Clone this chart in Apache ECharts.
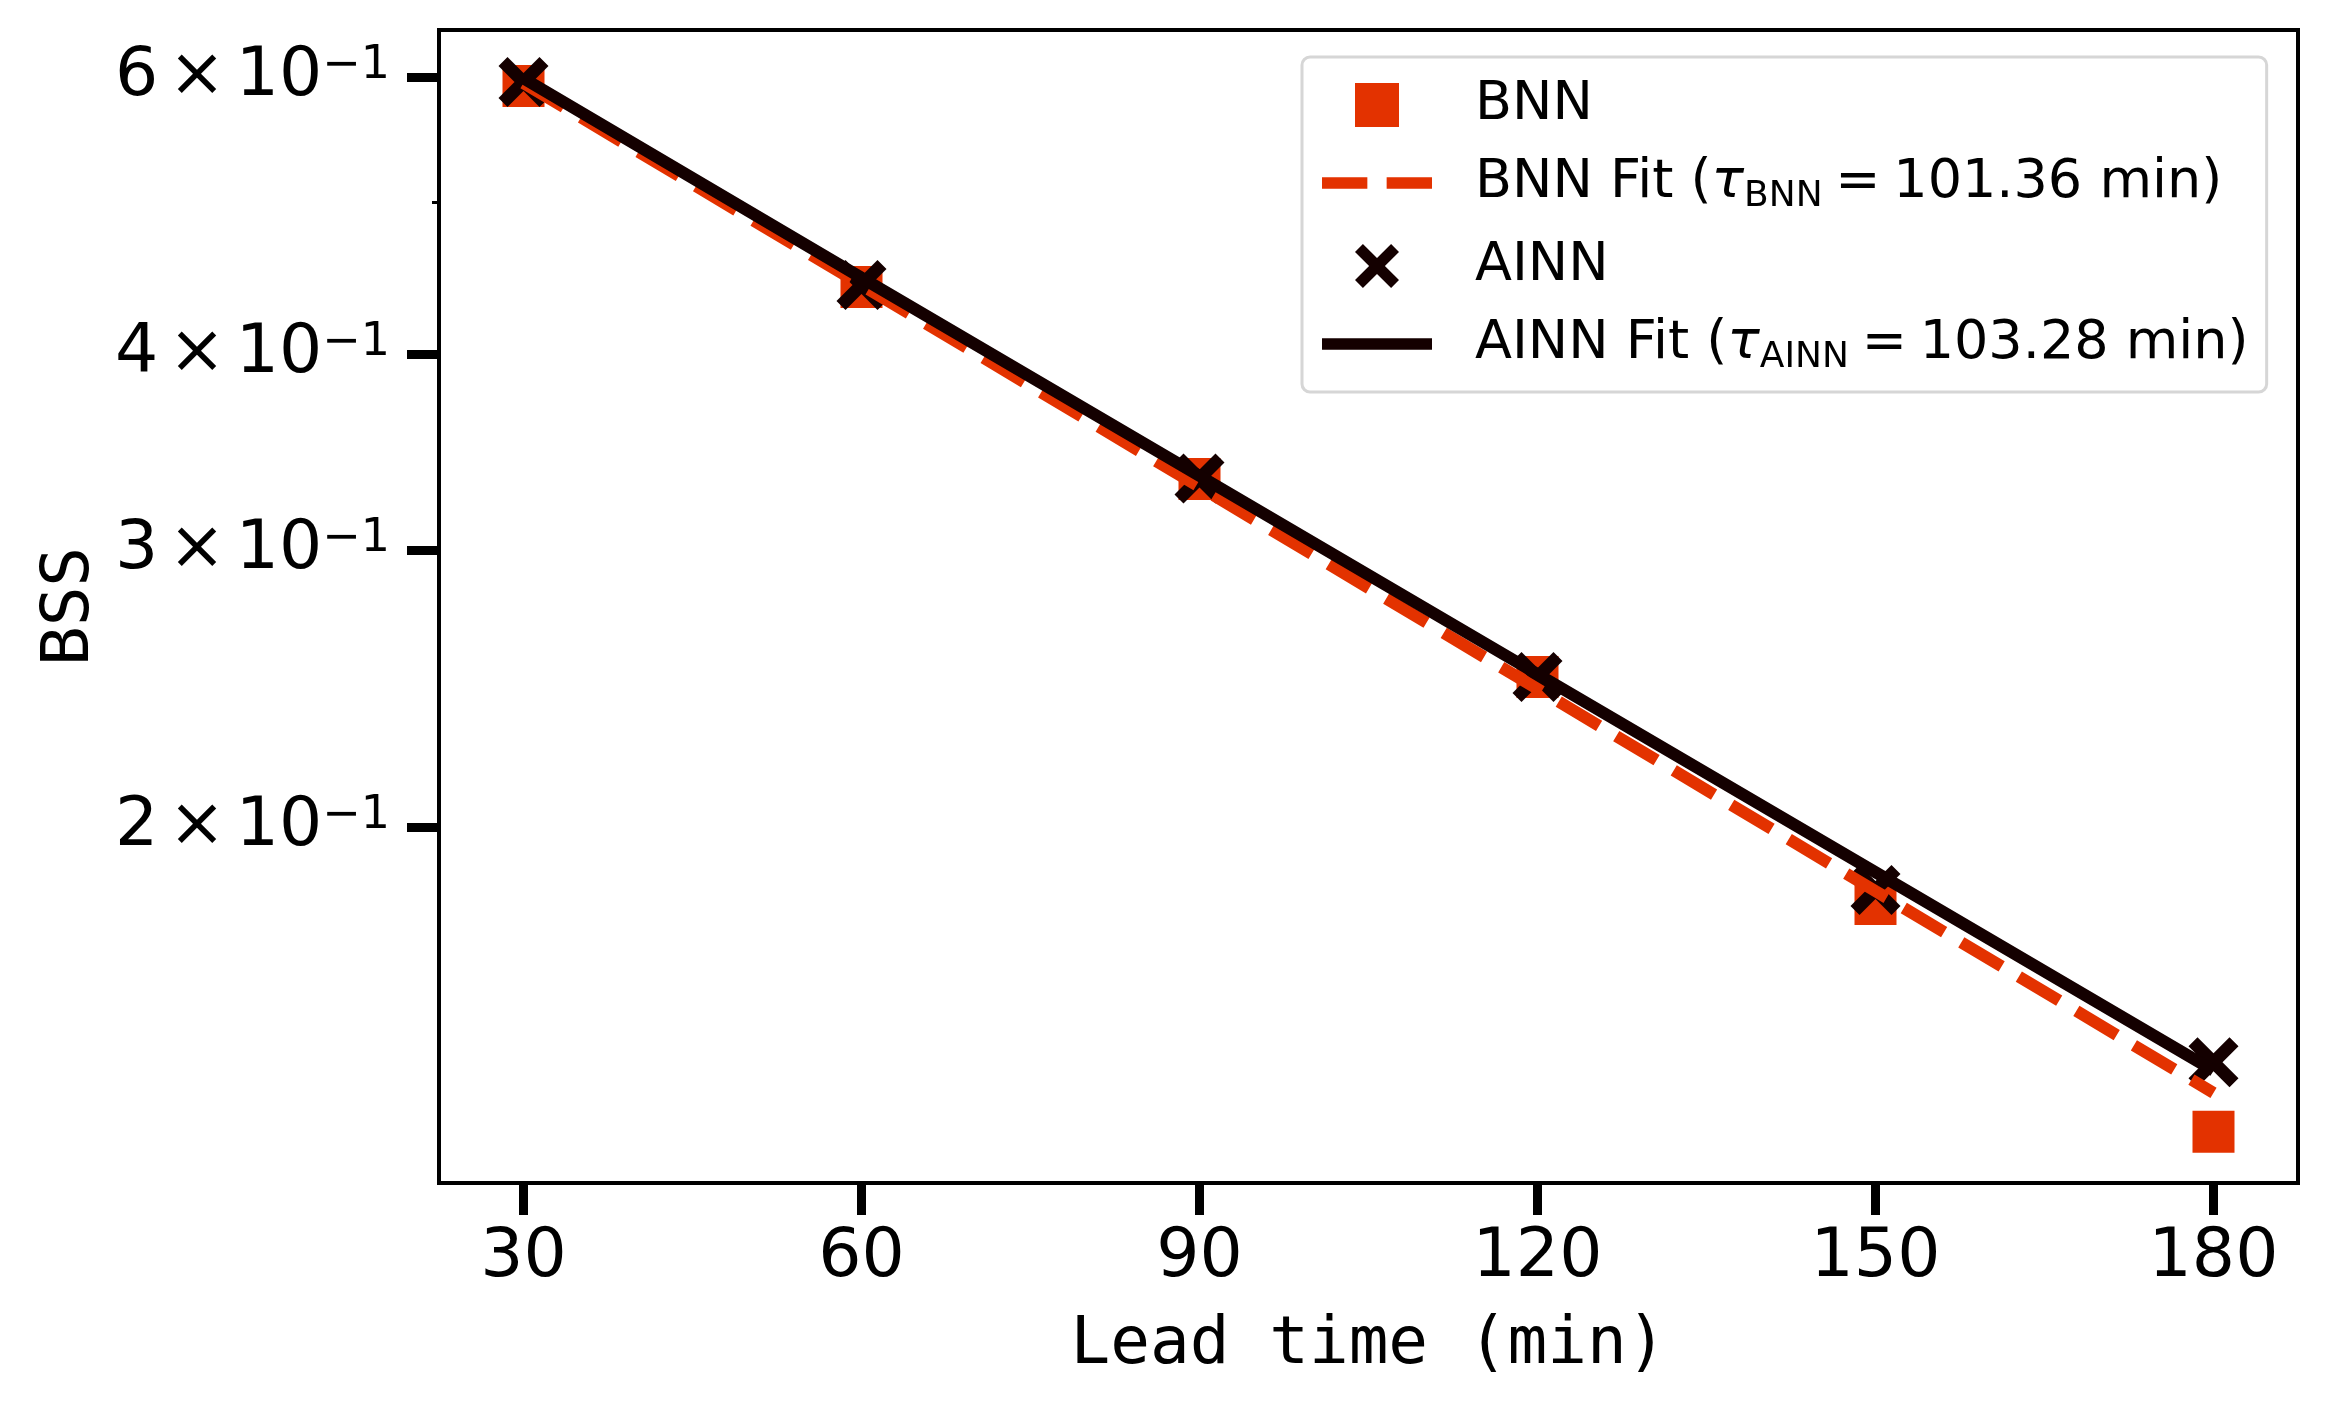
<!DOCTYPE html>
<html>
<head>
<meta charset="utf-8">
<script src="https://cdn.jsdelivr.net/npm/echarts@6/dist/echarts.min.js"></script>
<style>
  html, body { margin: 0; padding: 0; background: #fff; }
  #chart { width: 2328px; height: 1404px; }
</style>
</head>
<body>
<div id="chart"></div>
<script>
// values
var leadTimes = [30, 60, 90, 120, 150, 180];
var bnnBss = [0.5926, 0.4414, 0.3331, 0.2492, 0.1787, 0.1280];
var ainnBss = [0.5961, 0.4427, 0.3334, 0.2492, 0.1824, 0.1417];
var bnnFit = [0.5952, 0.4427, 0.3293, 0.2449, 0.1821, 0.1355];
var ainnFit = [0.5992, 0.4474, 0.3347, 0.2503, 0.1872, 0.1400];
var tauBnn = '101.36';
var tauAinn = '103.28';
var xTicks = [30, 60, 90, 120, 150, 180];
var yTicks = [0.2, 0.3, 0.4, 0.6];
var yMinorTicks = [0.5];

var RED = '#e33200';
var DARK = '#140000';
var SANS = 'DejaVu Sans';
var MONO = 'DejaVu Sans Mono';
var XMARK = 'path://M0,18 L18,0 L50,32 L82,0 L100,18 L68,50 L100,82 L82,100 L50,68 L18,100 L0,82 L32,50 Z';

function pairs(ys) {
    return leadTimes.map(function (t, i) { return [t, ys[i]]; });
}

var myChart = echarts.init(document.getElementById('chart'));

var option = {
    backgroundColor: '#fff',
    animation: false,
    grid: {
        left: 439, right: 30, top: 30, bottom: 221,
        show: true, borderColor: '#000', borderWidth: 4, backgroundColor: 'transparent'
    },
    legend: {
        orient: 'vertical',
        left: 1302, top: 57,
        padding: [21, 18, 16, 20],
        itemGap: 24,
        itemWidth: 110,
        itemHeight: 44,
        backgroundColor: '#fff',
        borderColor: '#d6d6d6',
        borderWidth: 3,
        borderRadius: 8,
        selectedMode: false,
        textStyle: {
            fontFamily: SANS, fontSize: 54, color: '#000',
            padding: [0, 0, 0, 38],
            rich: {
                n: { fontFamily: SANS, fontSize: 54, lineHeight: 64, verticalAlign: 'middle' },
                t: { fontFamily: SANS, fontSize: 54, lineHeight: 64, fontStyle: 'italic', verticalAlign: 'middle' },
                s: { fontFamily: SANS, fontSize: 36, lineHeight: 38, verticalAlign: 'bottom' },
                sp: { fontFamily: SANS, fontSize: 40, lineHeight: 64, verticalAlign: 'middle' }
            }
        },
        formatter: function (name) {
            if (name === 'BNN Fit') return '{n|BNN Fit (}{t|τ}{s|BNN}{sp| }{n|=}{sp| }{n|' + tauBnn + ' min)}';
            if (name === 'AINN Fit') return '{n|AINN Fit (}{t|τ}{s|AINN}{sp| }{n|=}{sp| }{n|' + tauAinn + ' min)}';
            return '{n|' + name + '}';
        },
        data: [
            { name: 'BNN', icon: 'path://M0,0h42v42h-42z', itemStyle: { color: RED, borderWidth: 0 } },
            { name: 'BNN Fit', icon: 'path://M0,0h47v12h-47z M67,0h47v12h-47z', itemStyle: { color: RED, borderWidth: 0 } },
            { name: 'AINN' },
            { name: 'AINN Fit', icon: 'path://M0,0h122v13h-122z', itemStyle: { color: DARK, borderWidth: 0 } }
        ]
    },
    xAxis: {
        type: 'value',
        min: 22.5, max: 187.5,
        name: 'Lead time (min)',
        nameLocation: 'middle',
        nameGap: 130,
        nameTextStyle: { fontFamily: MONO, fontSize: 66, color: '#000' },
        axisLine: { show: false },
        splitLine: { show: false },
        axisTick: { show: true, length: 32, lineStyle: { color: '#000', width: 9 }, customValues: xTicks },
        axisLabel: { fontFamily: SANS, fontSize: 68, color: '#000', margin: 41, customValues: xTicks }
    },
    yAxis: [{
        type: 'log',
        logBase: 10,
        min: 0.11872, max: 0.6433,
        name: 'BSS',
        nameLocation: 'middle',
        nameRotate: 90,
        nameGap: 311,
        nameTextStyle: { fontFamily: MONO, fontSize: 66, color: '#000' },
        axisLine: { show: false },
        splitLine: { show: false },
        minorTick: { show: false },
        axisTick: { show: true, length: 32, lineStyle: { color: '#000', width: 9 }, customValues: yTicks },
        axisLabel: {
            margin: 49,
            customValues: yTicks,
            formatter: function (v) {
                var m = Math.round(v * 10);
                return '{m|' + m + '}{sp| }{m|×}{sp| }{m|10}{e|−1}';
            },
            rich: {
                m: { fontFamily: SANS, fontSize: 68, color: '#000', lineHeight: 68, padding: [8, 0, 0, 0], verticalAlign: 'bottom' },
                sp: { fontFamily: SANS, fontSize: 32, color: '#000', lineHeight: 32, verticalAlign: 'bottom' },
                e: { fontFamily: SANS, fontSize: 46, color: '#000', lineHeight: 46, verticalAlign: 'top' }
            }
        }
    }, {
        type: 'log',
        logBase: 10,
        min: 0.11872, max: 0.6433,
        position: 'left',
        axisLine: { show: false },
        splitLine: { show: false },
        axisLabel: { show: false },
        axisTick: { show: true, length: 7, lineStyle: { color: '#000', width: 3 }, customValues: yMinorTicks }
    }],
    series: [
        {
            name: 'BNN',
            type: 'scatter',
            symbol: 'rect',
            symbolSize: 42,
            itemStyle: { color: RED, opacity: 1 },
            data: pairs(bnnBss)
        },
        {
            name: 'BNN Fit',
            type: 'line',
            symbol: 'none',
            showSymbol: false,
            itemStyle: { color: RED },
            lineStyle: { color: RED, width: 12, type: [47, 20], cap: 'butt' },
            data: pairs(bnnFit)
        },
        {
            name: 'AINN',
            type: 'scatter',
            symbol: XMARK,
            symbolSize: 50,
            itemStyle: { color: DARK, opacity: 1 },
            data: pairs(ainnBss)
        },
        {
            name: 'AINN Fit',
            type: 'line',
            symbol: 'none',
            showSymbol: false,
            itemStyle: { color: DARK },
            lineStyle: { color: DARK, width: 12 },
            data: pairs(ainnFit)
        }
    ]
};

myChart.setOption(option);
</script>
</body>
</html>
